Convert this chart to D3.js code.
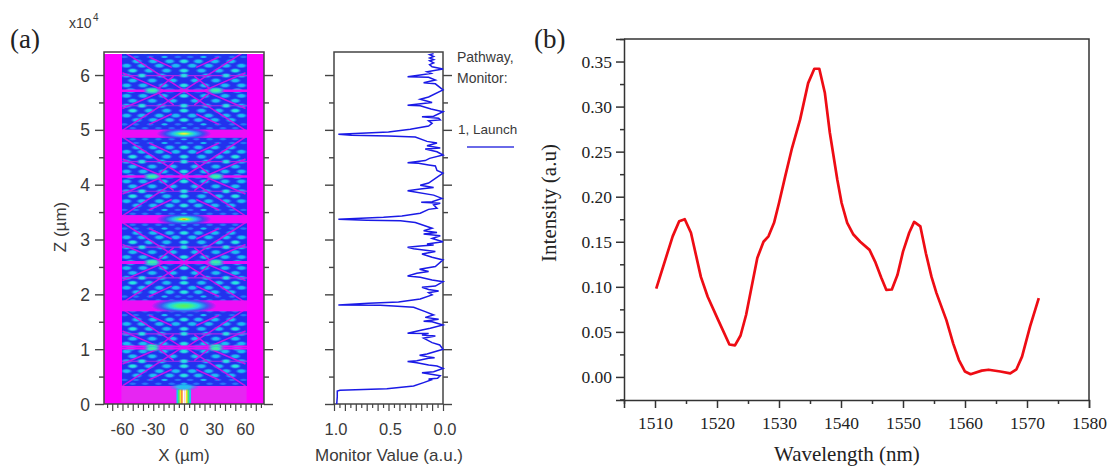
<!DOCTYPE html>
<html><head><meta charset="utf-8">
<style>
html,body{margin:0;padding:0;background:#fff;overflow:hidden}
svg{display:block}
.sans{font-family:"Liberation Sans",Arial,sans-serif;fill:#3a3a3a}
.serif{font-family:"Liberation Serif","Times New Roman",serif;fill:#222}
</style>
<script src="https://cdn.jsdelivr.net/npm/d3@7"></script>
</head><body>
<script>
// Panel (b): spectrum
const wavelength=[1510.2,1512.85,1513.9,1514.8,1515.8,1517.4,1518.5,1520.2,1522,1522.9,1523.8,1524.7,1526.5,1527.5,1528.3,1529.2,1530,1531,1532.1,1533.4,1534.7,1535.7,1536.5,1537.4,1538.2,1539.4,1540.1,1541,1542,1543.1,1544.6,1545.5,1546.5,1547.3,1548.2,1549.1,1550,1551,1551.8,1552.8,1553.7,1554.6,1555.4,1557,1558.1,1559,1560,1560.9,1562.7,1563.8,1565.7,1567.3,1568.3,1569.2,1570.5,1571.9];
const intensity=[0.098,0.156,0.1727,0.175,0.16,0.111,0.089,0.063,0.036,0.035,0.046,0.069,0.132,0.15,0.156,0.171,0.193,0.2225,0.254,0.2855,0.326,0.342,0.342,0.315,0.271,0.219,0.193,0.171,0.158,0.15,0.141,0.128,0.11,0.0967,0.097,0.113,0.139,0.16,0.172,0.167,0.137,0.111,0.093,0.063,0.037,0.019,0.006,0.003,0.007,0.008,0.006,0.004,0.0085,0.0225,0.056,0.0875];
const wlTicks=[1510,1520,1530,1540,1550,1560,1570,1580];
const wlMinor=[1505,1515,1525,1535,1545,1555,1565,1575];
const intTicks=[0,0.05,0.1,0.15,0.2,0.25,0.3,0.35];
const intMinor=[-0.025,0.025,0.075,0.125,0.175,0.225,0.275,0.325,0.375];

// Panel (a) right: monitor value vs Z (x10^4 um)
const monitorValue=[.975,.97,.97,.945,.515,.27,.178,.11,.132,.05,.025,.193,.086,0,.055,.132,.24,.325,.24,.132,.077,.147,.215,.147,0,.03,.1,.178,.07,.193,.132,.325,.193,.117,0,.1,.178,.04,.163,.086,.163,.27,.454,.577,.96,.684,.408,.209,.1,.132,.04,.132,.193,.07,0,.1,.209,.325,.24,.132,.215,.07,0,.1,.193,.07,.178,.27,.325,.209,.086,.147,0,.1,.025,.178,.055,.178,.1,.254,.39,.7,.96,.546,.377,.209,.132,.055,.086,.025,.2,.1,.01,.086,.325,.209,.086,.209,.132,0,.055,.07,.132,.224,.325,.163,.123,0,.055,.163,.025,.147,.055,.147,.254,.5,.84,.96,.5,.3,.132,.1,.132,.025,.04,.193,.086,0,.11,.209,.325,.224,.1,.209,.132,0,.07,.178,.07,.132,.325,.209,.11,.147,0,.1,.123,.086,.123,.086,.123,.086,.123,.086];
const monitorZ=[0,.134,.237,.25,.28,.328,.39,.438,.456,.468,.517,.572,.59,.65,.693,.712,.754,.773,.79,.833,.845,.864,.888,.912,.998,1.077,1.12,1.2,1.24,1.26,1.285,1.29,1.35,1.38,1.44,1.5,1.51,1.545,1.58,1.624,1.685,1.764,1.788,1.8,1.806,1.837,1.86,1.916,1.99,2.03,2.06,2.09,2.13,2.15,2.23,2.26,2.31,2.335,2.385,2.415,2.457,2.506,2.628,2.676,2.737,2.78,2.81,2.83,2.86,2.88,2.9,2.92,2.96,3.02,3.07,3.1,3.13,3.16,3.205,3.31,3.34,3.352,3.37,3.406,3.43,3.48,3.55,3.57,3.63,3.66,3.68,3.69,3.75,3.81,3.89,3.92,3.95,3.99,4.03,4.21,4.26,4.34,4.36,4.39,4.4,4.44,4.48,4.54,4.6,4.65,4.67,4.71,4.76,4.79,4.87,4.89,4.9,4.92,4.96,5.01,5.07,5.12,5.165,5.18,5.21,5.24,5.25,5.33,5.38,5.44,5.45,5.47,5.5,5.56,5.6,5.73,5.84,5.86,5.91,5.96,5.97,6,6.03,6.06,6.11,6.15,6.19,6.22,6.26,6.28,6.31,6.34,6.37,6.39];

// Panel (a) left: field map, read as bright spots on the interference lattice
const focalPlanes=[0.27,1.79,3.37,4.93,6.5];
const latticeDz=[.1,.17,.25,.33,.42,.51,.6,.69,.78];
const latticeX=[[0,12,25,38,50],[6,19,33,47,58],[0,14,30,46],[8,24,41,56],[0,17,34,50],[0,22,41,56],[11,31,50],[0,20,40,56],[0,14,31,52]];
const latticeLevel=[[1,0,0,0,0],[0,1,0,0,0],[2,1,1,1],[1,1,1,1],[2,1,1,2],[2,1,2,1],[1,1,1],[2,1,1,1],[1,0,3,1]];
const focusSpots=[[1.79,32,7.5],[3.37,27,6],[4.93,27,6]];
const bandHalf=[0.1,0.075,0.075];
const launchStripes=[[-6.5,"#18c8f0"],[-5,"#30f070"],[-3.4,"#e8f020"],[-1.8,"#ff9020"],[-.4,"#ffffff"],[1.2,"#fff0d0"],[2.8,"#f0f020"],[4.4,"#30f070"],[6,"#18c8f0"]];

const W=1109,H=467;
const svg=d3.select("body").append("svg").attr("width",W).attr("height",H);
const defs=svg.append("defs");
defs.append("clipPath").attr("id","heatClip").append("rect").attr("x",122).attr("y",54).attr("width",125).attr("height",332);
defs.append("filter").attr("id","soft").append("feGaussianBlur").attr("stdDeviation",0.6);
const levelColors=["#2878f8","#1ec4f2","#28e6e0","#4cf28c"];
levelColors.forEach((c,i)=>{
  const g=defs.append("radialGradient").attr("id","lv"+i);
  g.append("stop").attr("offset","0%").attr("stop-color",c);
  g.append("stop").attr("offset","45%").attr("stop-color",i===3?"#30e8c0":c).attr("stop-opacity",.9);
  g.append("stop").attr("offset","100%").attr("stop-color","#2a70f6").attr("stop-opacity",0);
});
function focusGrad(id,stops){
  const fg=defs.append("radialGradient").attr("id",id);
  stops.forEach(s=>fg.append("stop").attr("offset",s[0]).attr("stop-color",s[1]).attr("stop-opacity",s[2]===undefined?1:s[2]));
}
focusGrad("focus",[["0%","#fff040"],["10%","#d0f040"],["24%","#40f0a0"],["42%","#20c0f0"],["68%","#2850f4",.9],["100%","#2438f0",0]]);
focusGrad("focusR",[["0%","#ff5020"],["10%","#f0e020"],["24%","#40f090"],["42%","#20c0f0"],["68%","#2850f4",.9],["100%","#2438f0",0]]);
focusGrad("focusW",[["0%","#60f050"],["26%","#40f090"],["46%","#20d0e8"],["70%","#2860f4",.9],["100%","#2438f0",0]]);

// ---------- Panel a: field map ----------
const xA=d3.scaleLinear().domain([-78,78]).range([104,264]);
const zA=d3.scaleLinear().domain([0,6.42]).range([404,52]);
const xM=d3.scaleLinear().domain([1,0]).range([334,443]);
const MAG="#ff00ff";
const heat=svg.append("g").attr("filter","url(#soft)");
heat.append("rect").attr("x",xA(-78)).attr("y",54).attr("width",xA(78)-xA(-78)).attr("height",350).attr("fill",MAG);
heat.append("rect").attr("x",xA(-61)).attr("y",zA(.33)).attr("width",xA(61)-xA(-61)).attr("height",zA(.03)-zA(.33)).attr("fill","#e628f2");
const inner=heat.append("g").attr("clip-path","url(#heatClip)");
inner.append("rect").attr("x",xA(-62)).attr("y",54).attr("width",xA(62)-xA(-62)).attr("height",332).attr("fill","#2030ee");
const spots=[];
focalPlanes.forEach(f=>{[1,-1].forEach(dir=>{
  latticeDz.forEach((dz,r)=>{
    latticeX[r].forEach((x,k)=>{
      const lv=latticeLevel[r][k];
      const z=f+dir*dz;
      spots.push([x,z,lv,r]);
      if(x!==0) spots.push([-x,z,lv,r]);
    });
  });
});});
inner.selectAll("ellipse.blob").data(spots).join("ellipse").attr("class","blob")
  .attr("cx",d=>xA(d[0])).attr("cy",d=>zA(d[1]))
  .attr("rx",d=>d[3]<2?4.5:(d[2]===3?11:6.5)).attr("ry",d=>d[3]<2?1.7:(d[2]===3?3.8:2.9))
  .attr("fill",d=>`url(#lv${d[2]})`);
// diagonal interference lines
const diag=[];
focalPlanes.forEach(f=>{[1,-1].forEach(dir=>{[1,-1].forEach(s=>{
  diag.push([s*60,f+dir*.06,0,f+dir*.78]);
  diag.push([s*60,f+dir*.46,s*20,f+dir*.78]);
  diag.push([s*34,f+dir*.17,s*12,f+dir*.36]);
  diag.push([s*10,f+dir*.52,s*26,f+dir*.76]);
});});});
inner.selectAll("line.diag").data(diag).join("line").attr("class","diag")
  .attr("x1",d=>xA(d[0])).attr("y1",d=>zA(d[1])).attr("x2",d=>xA(d[2])).attr("y2",d=>zA(d[3]))
  .attr("stroke","#c414ec").attr("stroke-width",1.6);
// thin horizontal lines
const hl=[];
focalPlanes.forEach(f=>{[1,-1].forEach(dir=>{
  hl.push([f+dir*.78,2,"#e810f4"]);
  hl.push([f+dir*.51,1.2,"#a828ec"]);
});});
inner.selectAll("line.hl").data(hl).join("line").attr("class","hl")
  .attr("x1",xA(-62)).attr("x2",xA(62)).attr("y1",d=>zA(d[0])).attr("y2",d=>zA(d[0]))
  .attr("stroke",d=>d[2]).attr("stroke-width",d=>d[1]);
// strong spots laid over the lines
inner.selectAll("ellipse.mid").data(spots.filter(d=>d[2]>=2)).join("ellipse").attr("class","mid")
  .attr("cx",d=>xA(d[0])).attr("cy",d=>zA(d[1])).attr("rx",d=>d[2]===3?9:5).attr("ry",d=>d[2]===3?2.8:2).attr("fill",d=>`url(#lv${d[2]})`);
// focal bands and spots
focalPlanes.slice(1,4).forEach((f,i)=>{
  inner.append("rect").attr("x",xA(-62)).attr("width",xA(62)-xA(-62))
    .attr("y",zA(f+bandHalf[i])).attr("height",zA(f-bandHalf[i])-zA(f+bandHalf[i])).attr("fill","#ee10f6");
});
focusSpots.forEach((d,i)=>{
  inner.append("ellipse").attr("cx",xA(0)).attr("cy",zA(d[0])).attr("rx",xA(d[1])-xA(0)).attr("ry",d[2])
    .attr("fill",`url(#${i===0?"focusW":i===1?"focusR":"focus"})`);
});
// launch field
const bw=xA(1.7)-xA(0);
heat.selectAll("rect.launch").data(launchStripes).join("rect").attr("class","launch")
  .attr("x",d=>xA(d[0])-bw/2).attr("width",bw).attr("y",zA(.27)).attr("height",zA(0)-zA(.27)).attr("fill",d=>d[1]);
heat.append("ellipse").attr("cx",xA(0)).attr("cy",zA(.31)).attr("rx",15).attr("ry",4).attr("fill","url(#lv1)");

function styleAxis(g,col,w){
  g.selectAll("path").attr("stroke",col).attr("stroke-width",w);
  g.selectAll("line").attr("stroke",col).attr("stroke-width",w);
}
const AC="#444";
const zMaj=[0,1,2,3,4,5,6], zMin=[.5,1.5,2.5,3.5,4.5,5.5];
const xMaj=d3.range(-70,71,10), xMin=d3.range(-75,76,10);
const mMaj=d3.range(0,1.01,.1), mMin=d3.range(.05,1,.1);
function frameA(x0,x1){
  svg.append("rect").attr("x",x0).attr("y",52).attr("width",x1-x0).attr("height",352).attr("fill","none").attr("stroke",AC).attr("stroke-width",1.5);
  [[d3.axisLeft,x0],[d3.axisRight,x1]].forEach(([ax,x])=>{
    const g=svg.append("g").attr("transform",`translate(${x},0)`).call(ax(zA).tickValues(zMaj).tickSize(9).tickFormat(""));
    g.select(".domain").remove(); styleAxis(g,AC,1.4);
    const m=svg.append("g").attr("transform",`translate(${x},0)`).call(ax(zA).tickValues(zMin).tickSize(5).tickFormat(""));
    m.select(".domain").remove(); styleAxis(m,AC,1.4);
  });
}
frameA(104,264);frameA(334,443);

let g=svg.append("g").attr("transform","translate(0,404)").call(d3.axisBottom(xA).tickValues(xMaj).tickSize(7).tickFormat(""));
g.select(".domain").remove();styleAxis(g,AC,1.2);
g=svg.append("g").attr("transform","translate(0,404)").call(d3.axisBottom(xA).tickValues(xMin).tickSize(4).tickFormat(""));
g.select(".domain").remove();styleAxis(g,AC,1.2);
g=svg.append("g").attr("transform","translate(0,404)").call(d3.axisBottom(xM).tickValues(mMaj).tickSize(7).tickFormat(""));
g.select(".domain").remove();styleAxis(g,AC,1.2);
g=svg.append("g").attr("transform","translate(0,404)").call(d3.axisBottom(xM).tickValues(mMin).tickSize(4).tickFormat(""));
g.select(".domain").remove();styleAxis(g,AC,1.2);

const sans=(x,y,t,size,anchor)=>svg.append("text").attr("class","sans").attr("x",x).attr("y",y).attr("font-size",size).attr("text-anchor",anchor||"middle").text(t);
zMaj.forEach(z=>sans(90,zA(z)+6.5,String(z),17.5,"end"));
[-60,-30,0,30,60].forEach(x=>sans(xA(x),435,String(x),16.5));
[[1,"1.0"],[.5,"0.5"],[0,"0.0"]].forEach(([v,t])=>sans(xM(v)+2,435,t,16.5));
sans(69,28,"x10",14,"start");
svg.append("text").attr("class","sans").attr("x",93).attr("y",21).attr("font-size",10).text("4");
sans(184,461,"X (µm)",17);
svg.append("text").attr("class","sans").attr("transform","translate(66,227) rotate(-90)").attr("text-anchor","middle").attr("font-size",17).text("Z (µm)");
sans(389,461,"Monitor Value (a.u.)",17);
sans(457,62,"Pathway,",14,"start");
sans(457,83,"Monitor:",14,"start");
sans(458,134,"1, Launch",13.5,"start");
svg.append("line").attr("x1",467).attr("x2",514).attr("y1",147).attr("y2",147).attr("stroke","#3838e0").attr("stroke-width",1.5);

const monLine=d3.line().x((d,i)=>xM(monitorValue[i])).y((d,i)=>zA(monitorZ[i]));
svg.append("path").attr("d",monLine(monitorValue)).attr("fill","none").attr("stroke","#1a1ae6").attr("stroke-width",1.5);

// ---------- Panel b ----------
const xB=d3.scaleLinear().domain([1505,1580]).range([624,1089]);
const yB=d3.scaleLinear().domain([-0.0256,0.375]).range([400,39]);
const BC="#333";
svg.append("path").attr("d",`M${xB(1505)},${yB(.375)}H${xB(1580)}V${yB(-.0256)}`).attr("fill","none").attr("stroke",BC).attr("stroke-width",1.5);
g=svg.append("g").attr("transform","translate(0,400)").call(d3.axisBottom(xB).tickValues(wlTicks).tickSize(8).tickFormat(d3.format("d")).tickPadding(9));
g.select(".domain").attr("stroke",BC);styleAxis(g,BC,1.5);
g.selectAll("text").attr("class","serif").attr("font-size",17.5).attr("fill","#222").attr("font-family","Liberation Serif");
g=svg.append("g").attr("transform","translate(0,400)").call(d3.axisBottom(xB).tickValues(wlMinor).tickSize(4).tickFormat(""));
g.select(".domain").remove();styleAxis(g,BC,1.5);
g=svg.append("g").attr("transform","translate(624,0)").call(d3.axisLeft(yB).tickValues(intTicks).tickSize(8).tickFormat(d3.format(".2f")).tickPadding(4));
g.select(".domain").attr("stroke",BC);styleAxis(g,BC,1.5);
g.selectAll("text").attr("class","serif").attr("font-size",17.5).attr("fill","#222").attr("font-family","Liberation Serif");
g=svg.append("g").attr("transform","translate(624,0)").call(d3.axisLeft(yB).tickValues(intMinor).tickSize(4).tickFormat(""));
g.select(".domain").remove();styleAxis(g,BC,1.5);
svg.append("path").attr("d",d3.line().x((d,i)=>xB(wavelength[i])).y((d,i)=>yB(intensity[i]))(wavelength)).attr("fill","none").attr("stroke","#ee0c14").attr("stroke-width",2.7).attr("stroke-linejoin","round");
const serif=(x,y,t,size)=>svg.append("text").attr("class","serif").attr("x",x).attr("y",y).attr("font-size",size).text(t);
serif(10,48,"(a)",27);
serif(534,48,"(b)",27);
serif(774,461,"Wavelength (nm)",21);
svg.append("text").attr("class","serif").attr("transform","translate(556,203) rotate(-90)").attr("text-anchor","middle").attr("font-size",21).text("Intensity (a.u)");
</script>
</body></html>
